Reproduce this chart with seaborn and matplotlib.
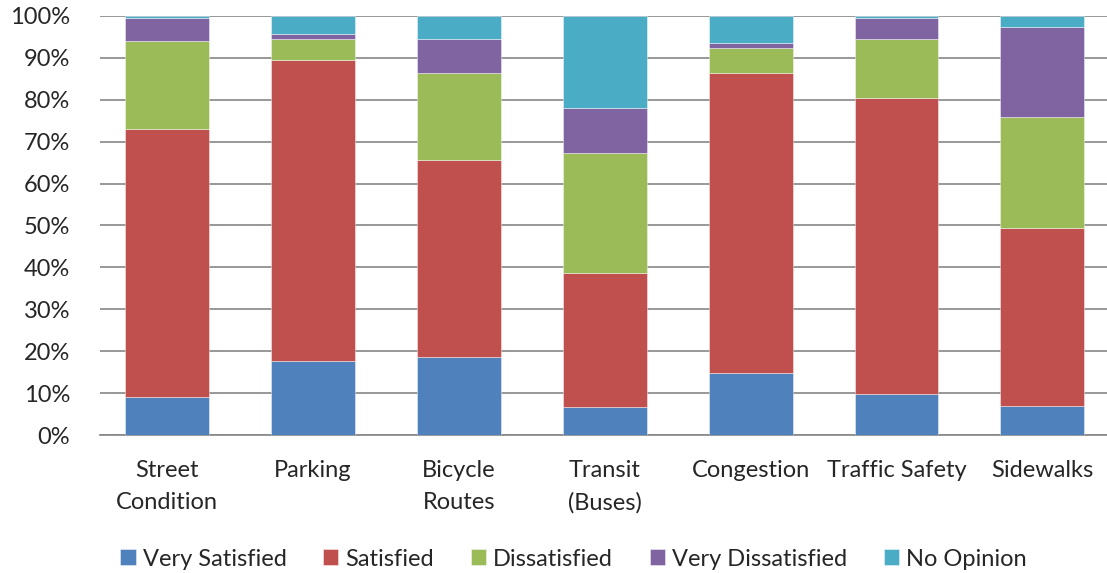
import numpy as np
import pandas as pd
import seaborn as sns
from matplotlib import pyplot as plt
from matplotlib.ticker import PercentFormatter

categories = ['Street\nCondition', 'Parking', 'Bicycle\nRoutes', 'Transit\n(Buses)',
              'Congestion', 'Traffic Safety', 'Sidewalks']
very_satisfied = [9.1, 17.7, 18.5, 6.6, 14.7, 9.7, 6.9]
satisfied = [63.9, 71.9, 47.1, 32.1, 71.6, 70.8, 42.5]
dissatisfied = [21.0, 4.9, 20.8, 28.6, 6.1, 14.0, 26.4]
very_dissatisfied = [5.6, 1.1, 8.1, 10.8, 1.1, 5.1, 21.5]
no_opinion = [0.4, 4.4, 5.5, 21.9, 6.5, 0.4, 2.7]

series = ['Very Satisfied', 'Satisfied', 'Dissatisfied', 'Very Dissatisfied', 'No Opinion']
colors = ['#4F81BD', '#C0504D', '#9BBB59', '#8064A2', '#4BACC6']

sns.set_style('white')
plt.rcParams['font.family'] = ['Lato', 'DejaVu Sans']

df = pd.DataFrame({'category': categories,
                   'Very Satisfied': very_satisfied,
                   'Satisfied': satisfied,
                   'Dissatisfied': dissatisfied,
                   'Very Dissatisfied': very_dissatisfied,
                   'No Opinion': no_opinion})

fig = plt.figure(figsize=(11.07, 5.73), dpi=100)
ax = fig.add_axes([100 / 1107, 138 / 573, 1007 / 1107, 419 / 573])

# stack the layers one on top of the other
base = np.zeros(len(categories))
for name, col in zip(series, colors):
    sns.barplot(data=df, x='category', y=name, bottom=base, color=col, width=0.575,
                saturation=1, label=name, ax=ax, edgecolor=(1, 1, 1, 0.5),
                linewidth=0.6, zorder=3)
    base = base + df[name].values

ax.set_ylim(0, 100)
ax.set_xlim(-67 / 145.9, 940 / 145.9)
ax.set_yticks(np.arange(0, 101, 10))
ax.yaxis.set_major_formatter(PercentFormatter(decimals=0))
ax.yaxis.grid(True, color='#868686', linewidth=1.2, zorder=0)
ax.set_axisbelow(True)
for s in ['top', 'right', 'left']:
    ax.spines[s].set_visible(False)
ax.spines['bottom'].set_color('#868686')
ax.spines['bottom'].set_linewidth(1.2)
ax.tick_params(axis='y', length=3.6, color='#868686', width=1.2, labelsize=17, pad=18)
ax.tick_params(axis='x', length=0, labelsize=17, pad=18)
ax.set_xlabel('')
ax.set_ylabel('')
for lab in ax.get_xticklabels():
    lab.set_linespacing(1.65)

ax.legend(loc='center', bbox_to_anchor=(573.5 / 1107, 1 - 559 / 573),
          bbox_transform=fig.transFigure, ncol=5, frameon=False, fontsize=17,
          handlelength=0.65, handleheight=0.65, handletextpad=0.3, columnspacing=1.55)

fig.savefig('out.png', dpi=100)
